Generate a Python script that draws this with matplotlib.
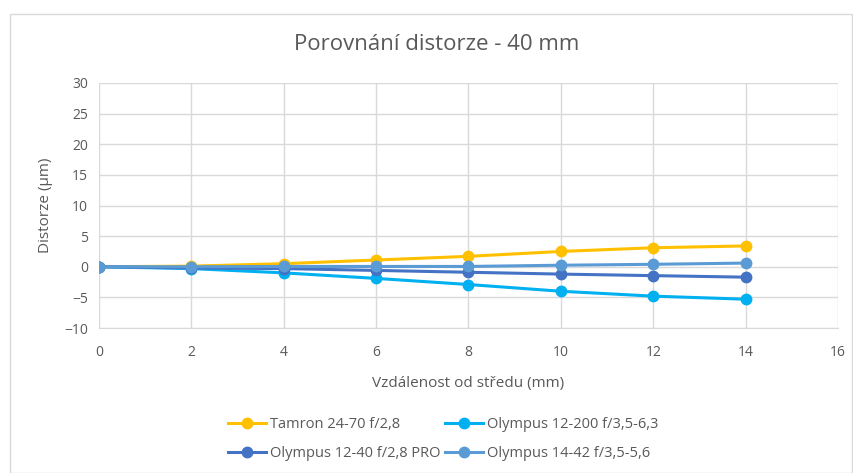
import matplotlib
matplotlib.use("Agg")
import matplotlib.pyplot as plt
from matplotlib.patches import Rectangle

x = [0, 2, 4, 6, 8, 10, 12, 14]
tamron = [0, 0.1, 0.5, 1.1, 1.7, 2.5, 3.1, 3.4]
oly_12_200 = [0, -0.3, -1.0, -1.9, -2.9, -4.0, -4.8, -5.3]
oly_12_40 = [0, -0.2, -0.3, -0.6, -0.9, -1.2, -1.45, -1.7]
oly_14_42 = [0, 0.0, 0.05, 0.05, 0.05, 0.25, 0.4, 0.6]
names = ["Tamron 24-70 f/2,8", "Olympus 12-200 f/3,5-6,3",
         "Olympus 12-40 f/2,8 PRO", "Olympus 14-42 f/3,5-5,6"]
colors = ["#FFC000", "#00B0F0", "#4472C4", "#5B9BD5"]
title = "Porovnání distorze - 40 mm"
xlabel = "Vzdálenost od středu (mm)"
ylabel = "Distorze (µm)"

plt.rcParams['font.family'] = ['Open Sans', 'DejaVu Sans']
W, H = 854, 473
fig = plt.figure(figsize=(W/100, H/100), dpi=100)
fig.patches.append(Rectangle((10/W, 0), (W-12)/W, (H-14)/H, transform=fig.transFigure,
                             fill=False, edgecolor="#D9D9D9", linewidth=1))
ax = fig.add_axes([99/W, 1-328/H, (838-99)/W, (328-83)/H])
series = [tamron, oly_12_200, oly_12_40, oly_14_42]
handles = []
for s, n, c in zip(series, names, colors):
    h, = ax.plot(x, s, color=c, linewidth=2.2, marker='o', markersize=7.5, label=n)
    handles.append(h)
ax.set_xlim(0, 16)
ax.set_ylim(-10, 30)
ax.set_xticks(range(0, 17, 2))
ax.set_yticks(range(-10, 31, 5))
ax.grid(True, color="#D9D9D9", linewidth=1)
ax.set_axisbelow(True)
for sp in ["top", "right", "left"]:
    ax.spines[sp].set_visible(False)
ax.spines["bottom"].set_color("#D9D9D9")
ax.tick_params(axis='x', pad=12)
ax.tick_params(length=0, labelsize=10, colors="#595959")
ax.tick_params(axis='y', pad=8)
fig.text(437/W, 1-45/H, title, fontsize=16, color="#595959", ha="center", va="center")
ax.set_xlabel(xlabel, fontsize=11, color="#595959", labelpad=12)
ax.set_ylabel(ylabel, fontsize=11, color="#595959", labelpad=8)
order = [0, 2, 1, 3]
fig.legend([handles[i] for i in order], [names[i] for i in order],
           loc="center", bbox_to_anchor=(443/W, 1-439/H), ncol=2, frameon=False,
           fontsize=10.5, labelcolor="#595959", handlelength=2.6, columnspacing=0.3,
           handletextpad=0.3, labelspacing=1.0)
fig.savefig("out.png", dpi=100, facecolor="white")
